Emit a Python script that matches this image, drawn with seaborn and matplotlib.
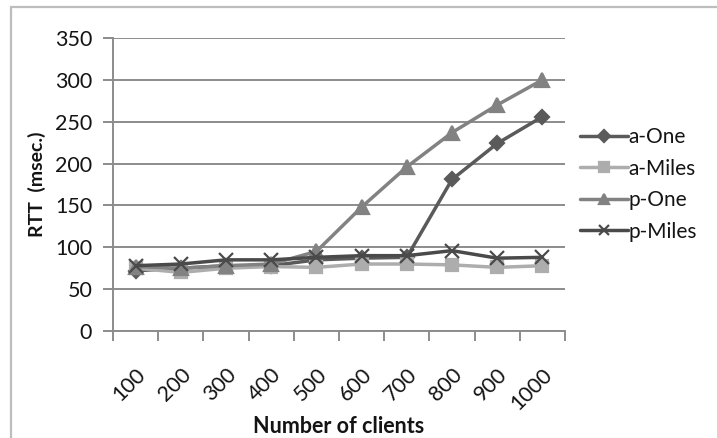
import matplotlib
matplotlib.use("Agg")
import matplotlib.pyplot as plt
import seaborn as sns
import pandas as pd
from matplotlib.patches import Rectangle

clients = ["100", "200", "300", "400", "500", "600", "700", "800", "900", "1000"]
a_one = [72, 75, 78, 78, 85, 87, 88, 181, 224, 256]
a_miles = [75, 70, 75, 77, 76, 80, 80, 79, 76, 78]
p_one = [77, 75, 78, 80, 95, 148, 196, 237, 270, 300]
p_miles = [78, 80, 85, 85, 88, 90, 90, 96, 87, 88]
series_names = ["a-One", "a-Miles", "p-One", "p-Miles"]
y_ticks = [0, 50, 100, 150, 200, 250, 300, 350]

series_values = dict(zip(series_names, [a_one, a_miles, p_one, p_miles]))

sns.set_theme(style="white")
plt.rcParams["font.family"] = ["Lato", "DejaVu Sans"]

palette = {"a-One": "#5a5a5a", "a-Miles": "#adadad", "p-One": "#828282", "p-Miles": "#4a4a4a"}
markers = {"a-One": "D", "a-Miles": "s", "p-One": "^", "p-Miles": "x"}
marker_sizes = {"a-One": 7.5, "a-Miles": 9, "p-One": 9.5, "p-Miles": 10}
text_color = "#141414"
grid_color = "#8c8c8c"

fig = plt.figure(figsize=(7.17, 4.38), dpi=100)
fig.patch.set_facecolor("white")
fig.patches.append(Rectangle((11 / 717, -0.1), 1.2, (438 - 7) / 438 + 0.1,
                             transform=fig.transFigure, fill=False,
                             edgecolor="#bdbdbd", linewidth=1.6, zorder=0))

ax = fig.add_axes([113 / 717, 1 - 331 / 438, (565 - 113) / 717, (331 - 38) / 438])
for name in series_names:
    df = pd.DataFrame({"clients": pd.Categorical(clients, categories=clients, ordered=True),
                       "rtt": series_values[name]})
    sns.lineplot(data=df, x="clients", y="rtt", color=palette[name],
                 marker=markers[name], markersize=marker_sizes[name],
                 markeredgewidth=1.6, markeredgecolor=palette[name],
                 linewidth=2.5, sort=False, ax=ax, label=name)

ax.set_xlim(-0.5, len(clients) - 0.5)
ax.set_ylim(0, 350)
ax.set_yticks(y_ticks)
ax.yaxis.grid(True, color=grid_color, linewidth=1.4)
ax.set_axisbelow(True)

ax.set_xticks(range(len(clients)))
ax.set_xticklabels(clients, rotation=45, ha="right", rotation_mode="anchor",
                   fontsize=15.5, color=text_color)
ax.set_xticks([i - 0.5 for i in range(len(clients) + 1)], minor=True)
ax.tick_params(axis="x", which="major", length=0, pad=24)
ax.tick_params(axis="x", which="minor", length=7, width=1.4, color=grid_color,
               direction="out", bottom=True)
ax.tick_params(axis="y", which="major", length=7, width=1.4, color=grid_color,
               direction="out", left=True, labelsize=15.5, labelcolor=text_color, pad=8)

for side in ["top", "right"]:
    ax.spines[side].set_visible(False)
for side in ["left", "bottom"]:
    ax.spines[side].set_color(grid_color)
    ax.spines[side].set_linewidth(1.4)

ax.set_xlabel("Number of clients", fontsize=15.5, fontweight="bold", color=text_color, labelpad=2)
ax.set_ylabel("RTT  (msec.)", fontsize=14, fontweight="bold", color=text_color, labelpad=6)

handles, labels = ax.get_legend_handles_labels()
leg = ax.legend(handles, labels, loc="center left", bbox_to_anchor=(1.033, 0.50),
                frameon=False, fontsize=15, handlelength=2.3, handletextpad=0.05,
                labelspacing=0.55, borderaxespad=0, borderpad=0, markerscale=0.75)
for t in leg.get_texts():
    t.set_color(text_color)

fig.savefig("out.png", dpi=100, facecolor="white")
